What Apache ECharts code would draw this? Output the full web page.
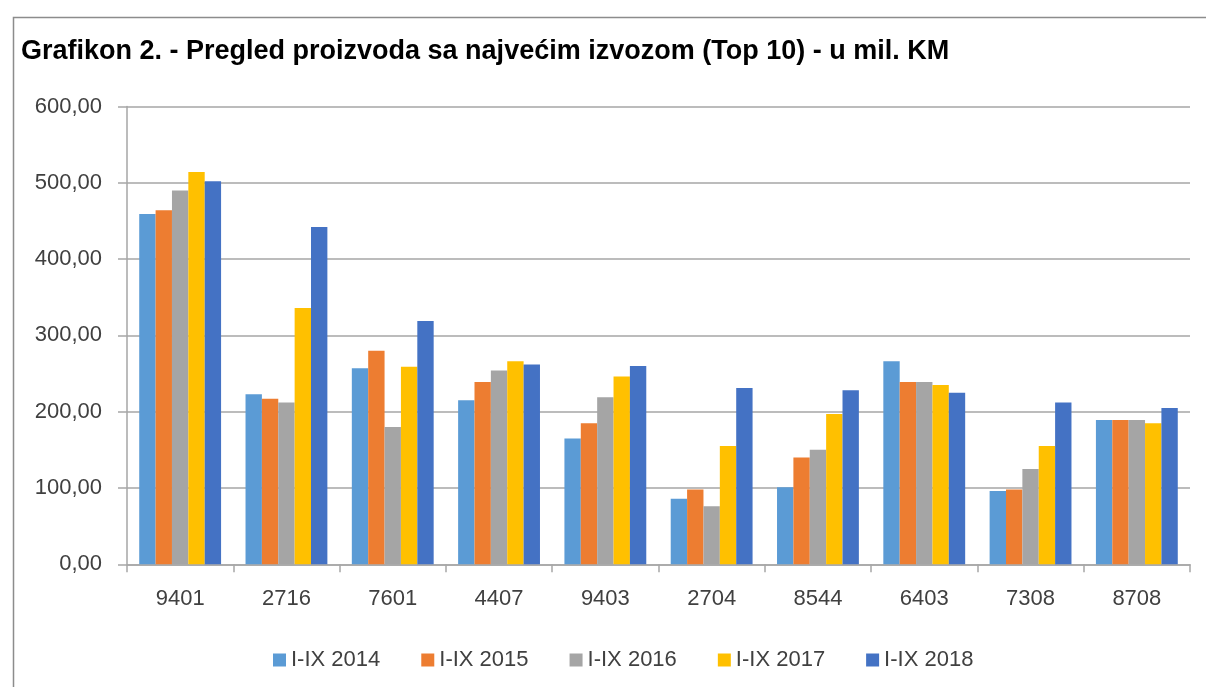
<!DOCTYPE html>
<html>
<head>
<meta charset="utf-8">
<script src="https://cdn.jsdelivr.net/npm/echarts@6/dist/echarts.min.js"></script>
<style>
  html, body { margin: 0; padding: 0; background: #fff; }
  #chart { width: 1206px; height: 687px; }
</style>
</head>
<body>
<div id="chart"></div>
<script>
// kategorije (tarifni brojevi)
const categories = ['9401', '2716', '7601', '4407', '9403', '2704', '8544', '6403', '7308', '8708']
const seriesNames = ['I-IX 2014', 'I-IX 2015', 'I-IX 2016', 'I-IX 2017', 'I-IX 2018']

// vrijednosti u mil. KM, ocitane sa grafikona
const v2014 = [459, 223, 257, 215, 165, 86, 101, 266, 96, 189]
const v2015 = [464, 217, 280, 239, 185, 98, 140, 239, 98, 189]
const v2016 = [490, 212, 180, 254, 219, 76, 150, 239, 125, 189]
const v2017 = [514, 336, 259, 266, 246, 155, 197, 235, 155, 185]
const v2018 = [502, 442, 319, 262, 260, 231, 228, 225, 212, 205]

const colors = ['#5b9bd5', '#ed7d31', '#a5a5a5', '#ffc000', '#4472c4']
const values = [v2014, v2015, v2016, v2017, v2018]

const chart = echarts.init(document.getElementById('chart'))
const font = 'Liberation Sans, Arial, sans-serif'
const gridColor = '#a6a6a6'

const option = {
  backgroundColor: '#fff',
  animation: false,
  color: colors,
  textStyle: { fontFamily: font },
  graphic: [{
    type: 'rect',
    left: 11,
    top: 15,
    shape: { width: 1220, height: 700 },
    style: { fill: 'none', stroke: '#8c8c8c', lineWidth: 1.5 },
    silent: true
  }],
  title: {
    text: 'Grafikon 2. - Pregled proizvoda sa najvećim izvozom (Top 10) - u mil. KM',
    left: 16,
    top: 33,
    textStyle: {
      fontFamily: font,
      fontSize: 27,
      fontWeight: 'bold',
      color: '#000'
    }
  },
  legend: {
    data: seriesNames,
    left: 268,
    top: 644,
    itemWidth: 13,
    itemHeight: 13,
    itemGap: 41,
    icon: 'rect',
    textStyle: { fontFamily: font, fontSize: 22, color: '#404040' }
  },
  grid: {
    left: 127,
    right: 16,
    top: 106.5,
    bottom: 122.7
  },
  xAxis: {
    type: 'category',
    data: categories,
    axisLine: { lineStyle: { color: gridColor, width: 1.5 } },
    axisTick: { show: true, length: 8, lineStyle: { color: gridColor, width: 1.5 } },
    axisLabel: { fontFamily: font, fontSize: 22, color: '#404040', margin: 24 }
  },
  yAxis: {
    type: 'value',
    min: 0,
    max: 600,
    interval: 100,
    axisLine: { show: true, lineStyle: { color: gridColor, width: 1.5 } },
    axisTick: { show: true, length: 9, lineStyle: { color: gridColor, width: 1.5 } },
    splitLine: { lineStyle: { color: gridColor, width: 1.5 } },
    axisLabel: {
      fontFamily: font,
      fontSize: 22,
      color: '#404040',
      margin: 25,
      formatter: v => v.toFixed(2).replace('.', ',')
    }
  },
  series: seriesNames.map((name, i) => ({
    name: name,
    type: 'bar',
    data: values[i],
    barGap: '0%',
    barCategoryGap: '23%',
    itemStyle: { color: colors[i] }
  }))
}

chart.setOption(option)
</script>
</body>
</html>
